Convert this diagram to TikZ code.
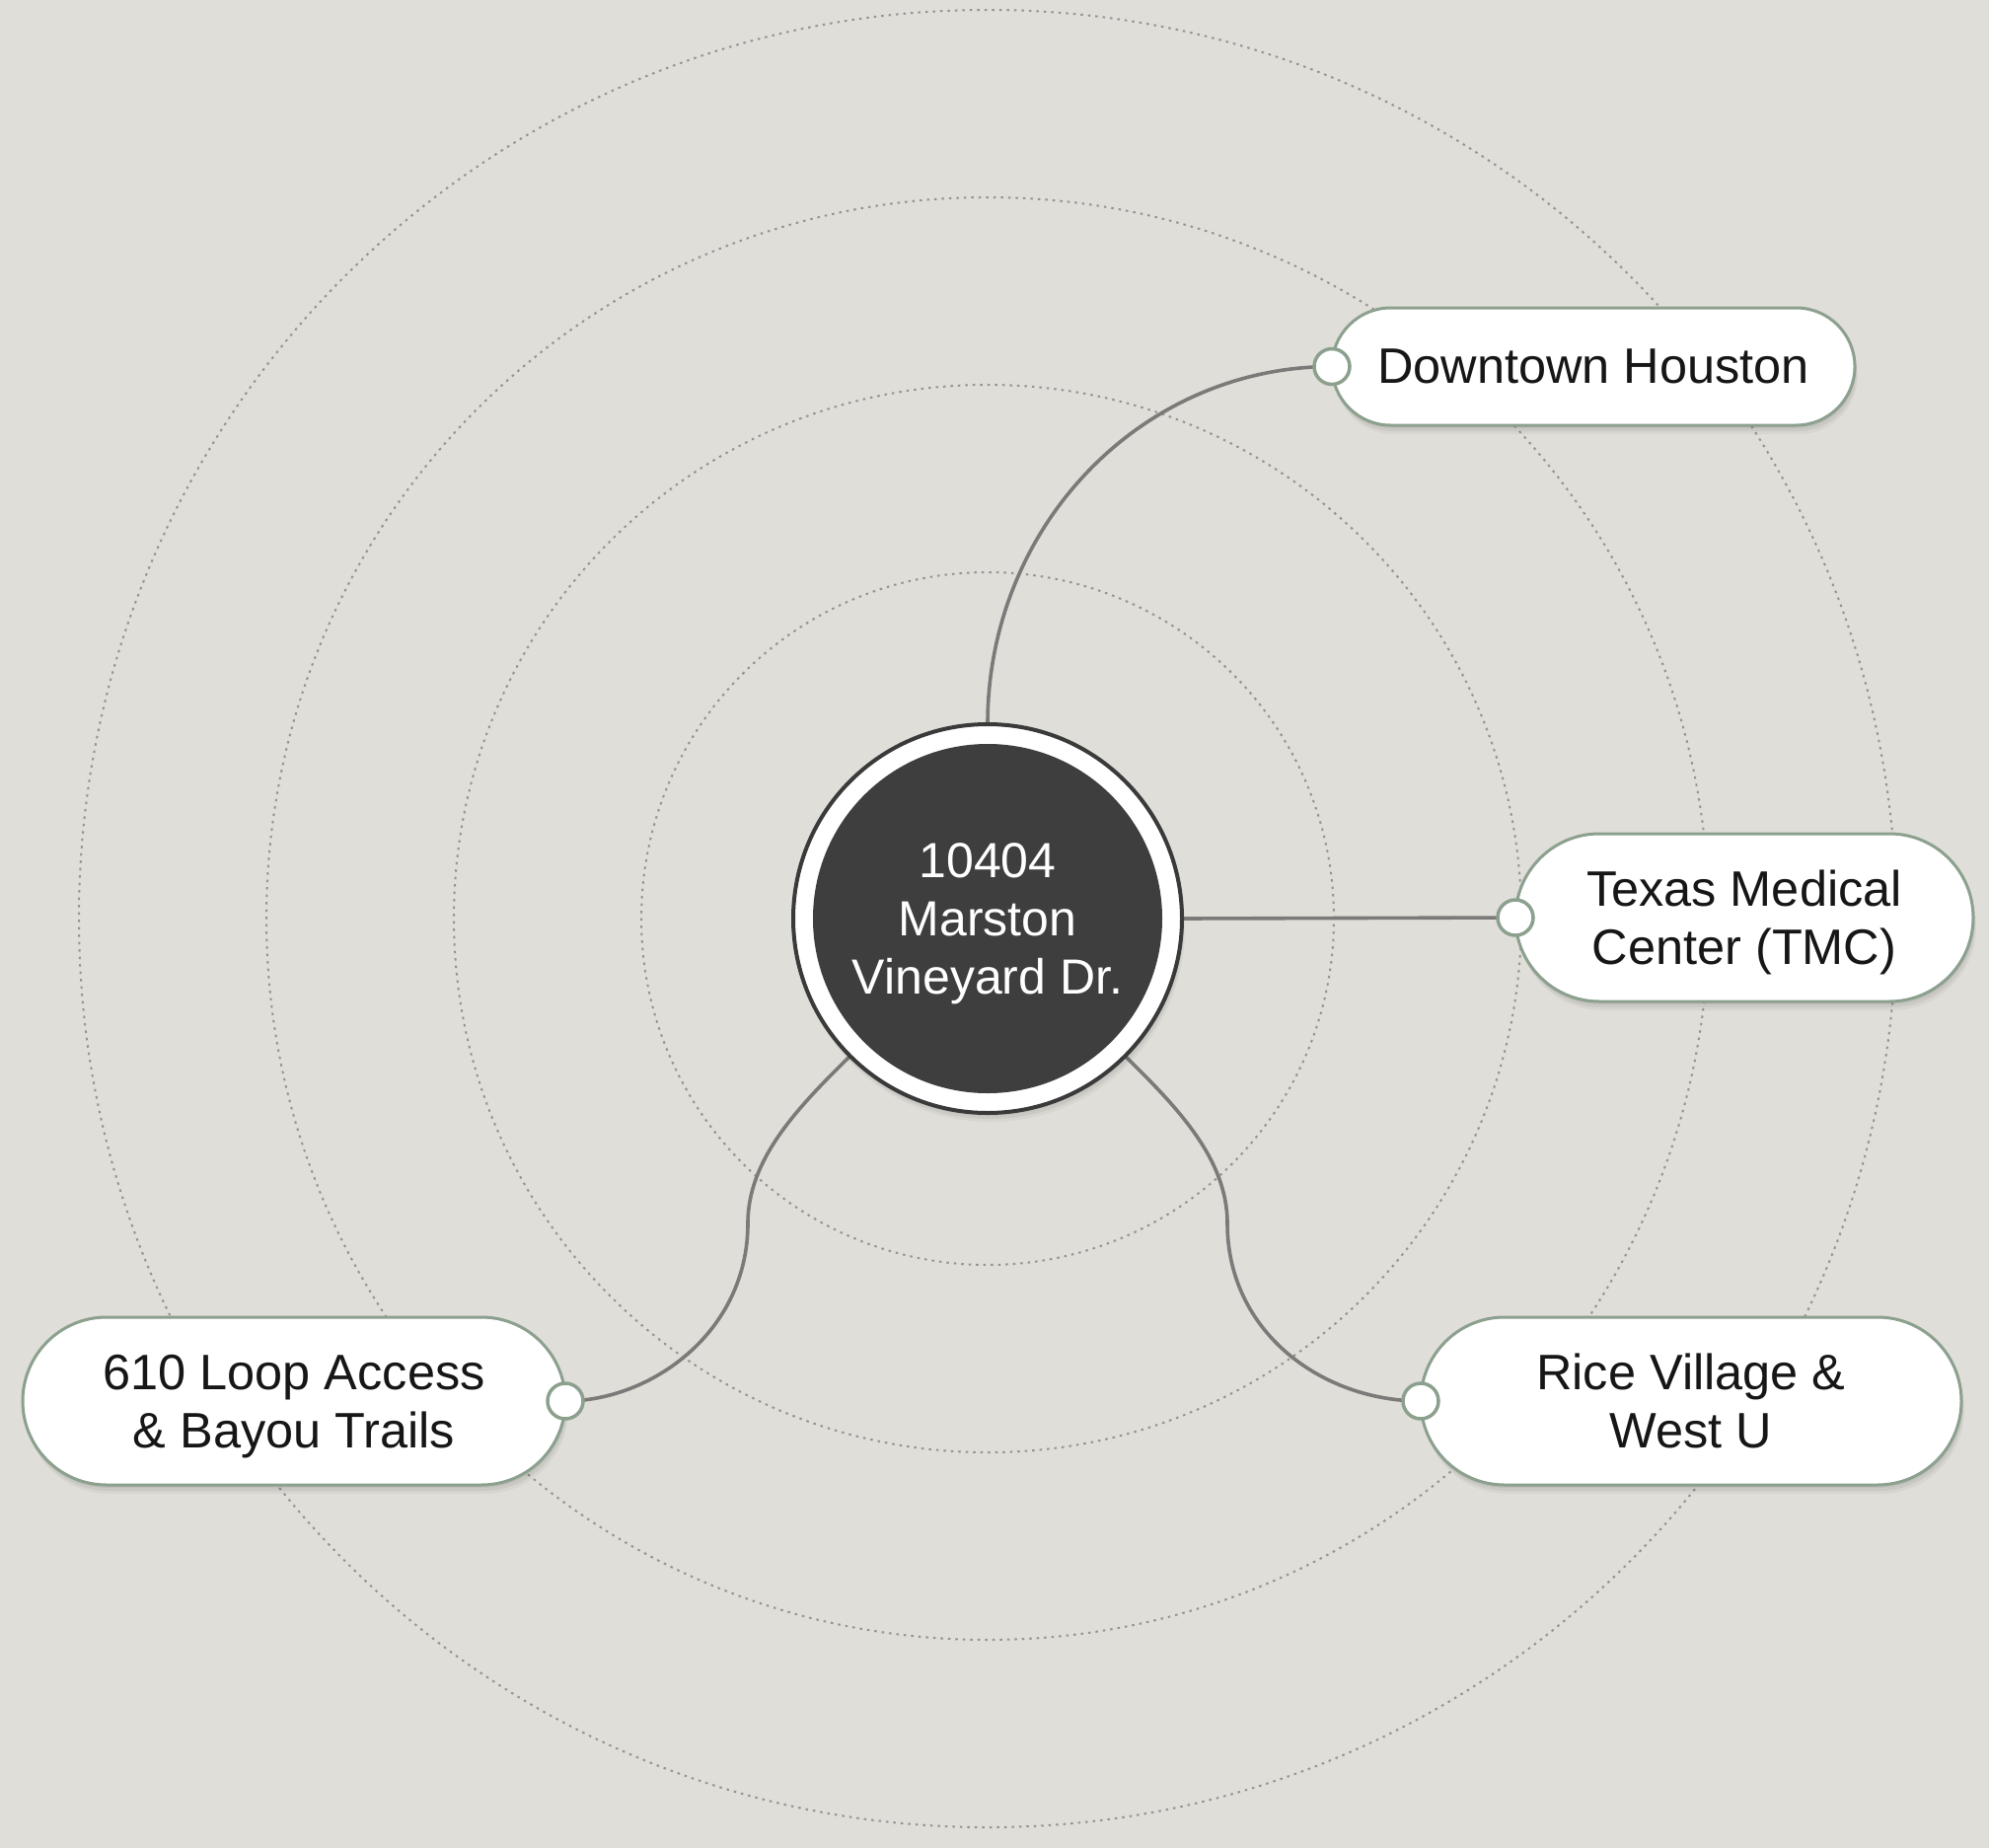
\documentclass[tikz,border=0pt]{standalone}
\usepackage{fontspec}
\setmainfont{Liberation Sans}
\usetikzlibrary{shadows}
\definecolor{bgc}{RGB}{224,222,217}
\definecolor{dotc}{RGB}{148,148,145}
\definecolor{connc}{RGB}{122,122,120}
\definecolor{sage}{RGB}{140,160,142}
\definecolor{darkc}{RGB}{62,62,62}
\definecolor{rimc}{RGB}{58,58,58}
\definecolor{txt}{RGB}{22,22,22}
\pgfdeclarelayer{back}
\pgfsetlayers{back,main}
\begin{document}
\begin{tikzpicture}[x=1pt,y=-1pt,
  softshadow/.style={
    drop shadow={fill=black, opacity=0.05, shadow xshift=1pt, shadow yshift=-3pt},
    drop shadow={fill=black, opacity=0.05, shadow xshift=2pt, shadow yshift=-6pt},
    drop shadow={fill=black, opacity=0.04, shadow xshift=3pt, shadow yshift=-9pt}},
  pill/.style={draw=sage, line width=3pt, fill=white, inner sep=0pt, outer sep=0pt,
    align=center, text=txt, text depth=0pt, font=\fontsize{50.5}{59}\selectfont, softshadow},
  port/.style={circle, draw=sage, line width=3.5pt, fill=white, minimum size=36pt,
    inner sep=0pt, outer sep=0pt},
  conn/.style={draw=connc, line width=3.6pt},
  dotring/.style={draw=dotc, line width=2pt, dash pattern=on 2.5pt off 5pt}]
\useasboundingbox (0,0) rectangle (2016,1873);
% center node
\node[circle, fill=white, draw=rimc, line width=4pt, minimum size=394pt, inner sep=0pt,
  outer sep=0pt, softshadow] (c) at (1001,931) {};
\node[circle, fill=darkc, minimum size=354pt, inner sep=0pt, outer sep=0pt, text=white,
  align=center, text depth=0pt, font=\fontsize{50}{59}\selectfont] (cin) at (c.center)
  {10404\\Marston\\Vineyard Dr.};
% pills
\node[pill, minimum width=530pt, minimum height=119pt, rounded corners=59.5pt]
  (dt) at (1615,371.5) {Downtown Houston};
\node[pill, minimum width=464pt, minimum height=170pt, rounded corners=85pt]
  (tmc) at (1768,930) {Texas Medical\\Center (TMC)};
\node[pill, minimum width=550pt, minimum height=170pt, rounded corners=85pt]
  (loop) at (298,1420) {610 Loop Access\\\& Bayou Trails};
\node[pill, minimum width=548pt, minimum height=170pt, rounded corners=85pt]
  (rice) at (1714,1420) {Rice Village \&\\West U};
% ports
\node[port] (dtp) at (dt.west) {};
\node[port] (tmcp) at (tmc.west) {};
\node[port] (loopp) at (loop.east) {};
\node[port] (ricep) at (rice.west) {};
\coordinate (lmid) at (758,1240);
\coordinate (rmid) at (1244,1240);
\begin{pgfonlayer}{back}
  \fill[bgc] (0,0) rectangle (2016,1873);
  \foreach \r in {351,541,731,921} {
    \draw[dotring] (c.center) circle[radius=\r pt];
  }
  \draw[conn] (c.north) .. controls (1001,533) and (1157,371.5) .. (dtp.center);
  \draw[conn] (c.east) -- (tmcp.center);
  \draw[conn] (c.225) .. controls (808,1123) and (758,1175) .. (lmid)
     .. controls (758,1350) and (660,1420) .. (loopp.center);
  \draw[conn] (c.-45) .. controls (1194,1123) and (1244,1175) .. (rmid)
     .. controls (1244,1350) and (1340,1420) .. (ricep.center);
\end{pgfonlayer}
\end{tikzpicture}
\end{document}
